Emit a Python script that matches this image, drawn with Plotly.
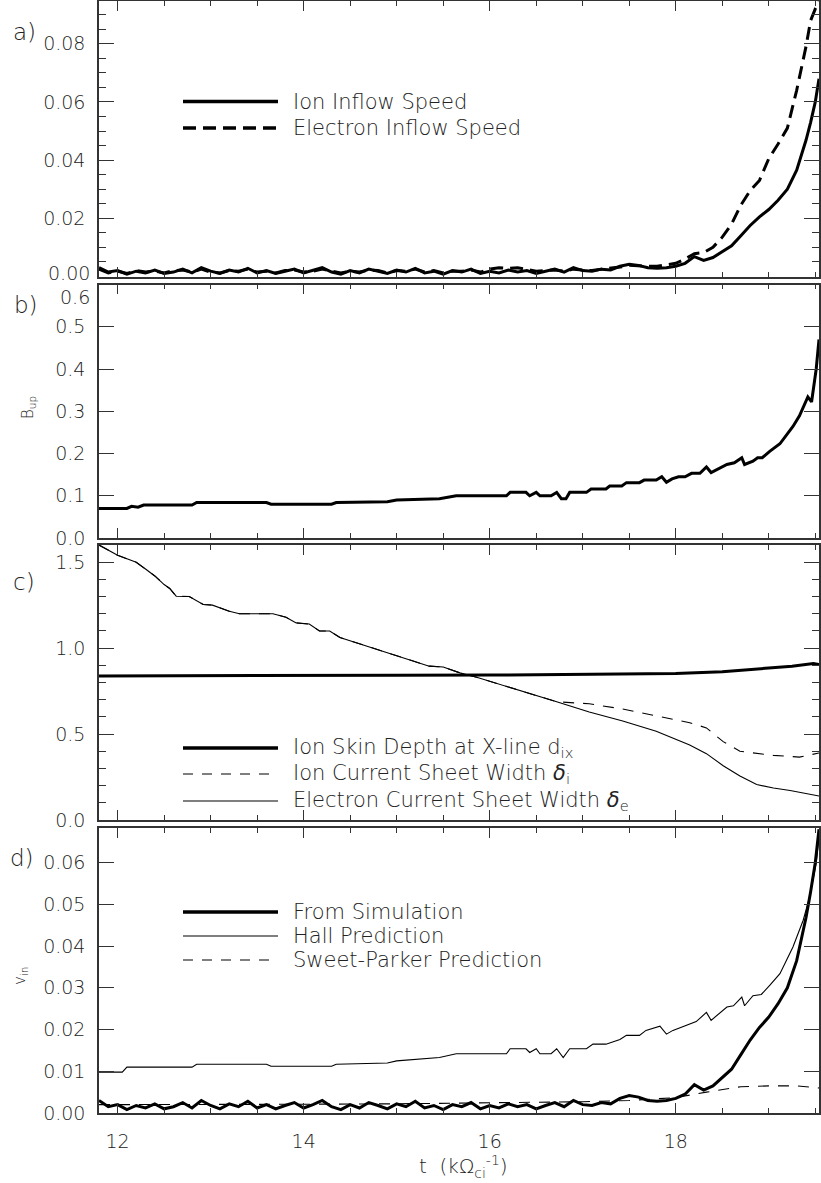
import plotly.graph_objects as go

# ---------------- data ----------------
# panel a / d : ion inflow speed (= v_in from simulation)
t_in = [11.8, 11.9, 12.0, 12.1, 12.2, 12.3, 12.4, 12.5, 12.6, 12.7,
        12.8, 12.9, 13.0, 13.1, 13.2, 13.3, 13.4, 13.5, 13.6, 13.7,
        13.8, 13.9, 14.0, 14.1, 14.2, 14.3, 14.4, 14.5, 14.6, 14.7,
        14.8, 14.9, 15.0, 15.1, 15.2, 15.3, 15.4, 15.5, 15.6, 15.7,
        15.8, 15.9, 16.0, 16.1, 16.2, 16.3, 16.4, 16.5, 16.6, 16.7,
        16.8, 16.9, 17.0, 17.1, 17.2, 17.3, 17.4, 17.5, 17.6, 17.7,
        17.8, 17.9, 18.0, 18.1, 18.2, 18.3, 18.4, 18.5, 18.6, 18.7,
        18.8, 18.9, 19.0, 19.1, 19.2, 19.3, 19.4, 19.45, 19.5, 19.54]
ion_inflow = [0.0030, 0.0015, 0.0020, 0.0008, 0.0018, 0.0012, 0.0022, 0.0010, 0.0015, 0.0025,
              0.0012, 0.0030, 0.0018, 0.0010, 0.0022, 0.0015, 0.0028, 0.0012, 0.0020, 0.0010,
              0.0018, 0.0025, 0.0012, 0.0020, 0.0030, 0.0015, 0.0008, 0.0020, 0.0012, 0.0025,
              0.0018, 0.0010, 0.0022, 0.0015, 0.0028, 0.0012, 0.0018, 0.0008, 0.0020, 0.0015,
              0.0025, 0.0010, 0.0018, 0.0012, 0.0022, 0.0015, 0.0020, 0.0010, 0.0018, 0.0025,
              0.0015, 0.0030, 0.0020, 0.0018, 0.0025, 0.0022, 0.0035, 0.0042, 0.0038, 0.0030,
              0.0028, 0.0030, 0.0035, 0.0045, 0.0068, 0.0055, 0.0065, 0.0085, 0.0105, 0.0140,
              0.0175, 0.0205, 0.0230, 0.0262, 0.0300, 0.0365, 0.0468, 0.0530, 0.0600, 0.0680]
electron_inflow = [0.0025, 0.0012, 0.0018, 0.0010, 0.0020, 0.0015, 0.0018, 0.0012, 0.0020, 0.0022,
                   0.0015, 0.0025, 0.0015, 0.0012, 0.0020, 0.0018, 0.0025, 0.0015, 0.0018, 0.0012,
                   0.0020, 0.0022, 0.0015, 0.0018, 0.0025, 0.0018, 0.0012, 0.0018, 0.0015, 0.0022,
                   0.0020, 0.0012, 0.0020, 0.0018, 0.0025, 0.0015, 0.0020, 0.0012, 0.0018, 0.0018,
                   0.0022, 0.0015, 0.0025, 0.0030, 0.0028, 0.0030, 0.0025, 0.0018, 0.0020, 0.0022,
                   0.0018, 0.0025, 0.0022, 0.0020, 0.0025, 0.0028, 0.0032, 0.0038, 0.0036, 0.0035,
                   0.0035, 0.0040, 0.0045, 0.0060, 0.0078, 0.0082, 0.0100, 0.0135, 0.0180, 0.0245,
                   0.0295, 0.0330, 0.0405, 0.0455, 0.0510, 0.0640, 0.0790, 0.0880, 0.0920, 0.0945]

# panel b : upstream field
t_b = [11.8, 12.1, 12.15, 12.22, 12.28, 12.8, 12.85, 13.6, 13.65, 14.3,
       14.35, 14.9, 15.0, 15.46, 15.64, 16.18, 16.22, 16.39, 16.43, 16.50,
       16.54, 16.66, 16.72, 16.77, 16.82, 16.86, 17.04, 17.09, 17.25, 17.29,
       17.42, 17.47, 17.61, 17.66, 17.79, 17.85, 17.90, 17.96, 18.03, 18.10,
       18.17, 18.26, 18.33, 18.38, 18.55, 18.63, 18.71, 18.74, 18.83, 18.88,
       18.93, 19.01, 19.12, 19.26, 19.33, 19.42, 19.46, 19.51, 19.54]
b_up = [0.070, 0.070, 0.075, 0.073, 0.078, 0.078, 0.084, 0.084, 0.080, 0.080,
        0.084, 0.086, 0.090, 0.093, 0.100, 0.100, 0.108, 0.108, 0.100, 0.108,
        0.100, 0.100, 0.108, 0.093, 0.093, 0.108, 0.108, 0.116, 0.116, 0.123,
        0.123, 0.131, 0.131, 0.137, 0.137, 0.145, 0.132, 0.140, 0.145, 0.145,
        0.153, 0.153, 0.168, 0.155, 0.174, 0.178, 0.190, 0.174, 0.182, 0.190,
        0.190, 0.205, 0.223, 0.264, 0.289, 0.334, 0.322, 0.400, 0.470]

# panel c : length scales
t_dix = [11.8, 13.0, 14.0, 15.0, 16.0, 17.0, 17.5, 18.0, 18.5, 19.0, 19.25, 19.48, 19.54]
d_ix = [0.838, 0.838, 0.840, 0.842, 0.843, 0.846, 0.848, 0.852, 0.862, 0.882, 0.895, 0.910, 0.905]

t_de = [11.8, 11.9, 12.0, 12.1, 12.2, 12.3, 12.4, 12.5, 12.56, 12.63,
        12.77, 12.92, 13.02, 13.20, 13.31, 13.67, 13.81, 13.92, 14.06, 14.17,
        14.28, 14.39, 14.57, 14.85, 15.07, 15.35, 15.50, 15.68, 15.86, 16.14,
        16.50, 16.72, 17.07, 17.43, 17.79, 18.15, 18.33, 18.51, 18.69, 18.87,
        19.05, 19.23, 19.54]
delta_e = [1.60, 1.57, 1.54, 1.52, 1.50, 1.46, 1.42, 1.37, 1.347, 1.302,
           1.30, 1.254, 1.25, 1.215, 1.20, 1.20, 1.18, 1.147, 1.14, 1.10,
           1.10, 1.062, 1.031, 0.984, 0.945, 0.895, 0.89, 0.856, 0.83, 0.785,
           0.727, 0.688, 0.628, 0.576, 0.516, 0.436, 0.386, 0.316, 0.256, 0.206,
           0.186, 0.172, 0.140]
t_di_late = [17.07, 17.43, 17.79, 18.15, 18.33, 18.51, 18.69, 18.87, 19.05, 19.33, 19.48, 19.54]
delta_i_late = [0.676, 0.646, 0.606, 0.566, 0.536, 0.456, 0.400, 0.386, 0.376, 0.366, 0.386, 0.390]
t_di = t_de[:32] + t_di_late
delta_i = delta_e[:32] + delta_i_late

# panel d : predictions
t_hall = [11.8, 12.05, 12.1, 12.8, 12.85, 13.6, 13.65, 14.3, 14.35, 14.9,
          15.0, 15.46, 15.64, 16.18, 16.22, 16.39, 16.43, 16.50, 16.54, 16.66,
          16.72, 16.79, 16.86, 17.04, 17.11, 17.25, 17.40, 17.47, 17.61, 17.68,
          17.83, 17.90, 17.97, 18.11, 18.22, 18.33, 18.38, 18.55, 18.62, 18.71,
          18.74, 18.83, 18.92, 19.01, 19.12, 19.26, 19.37, 19.44, 19.51, 19.54]
hall = [0.0098, 0.0098, 0.0110, 0.0110, 0.0117, 0.0117, 0.0112, 0.0112, 0.0117, 0.0120,
        0.0125, 0.0133, 0.0142, 0.0142, 0.0154, 0.0154, 0.0145, 0.0154, 0.0142, 0.0142,
        0.0154, 0.0133, 0.0154, 0.0154, 0.0165, 0.0165, 0.0176, 0.0186, 0.0186, 0.0198,
        0.0208, 0.0189, 0.0198, 0.0210, 0.0219, 0.0241, 0.0222, 0.0254, 0.0257, 0.0278,
        0.0257, 0.0281, 0.0284, 0.0306, 0.0334, 0.0398, 0.0462, 0.0518, 0.0599, 0.0660]
t_sp = [11.8, 13.0, 14.0, 15.0, 16.0, 17.0, 17.5, 18.0, 18.33, 18.7, 19.0, 19.3, 19.54]
sweet_parker = [0.0020, 0.0020, 0.0021, 0.0022, 0.0024, 0.0027, 0.0030, 0.0037, 0.0050, 0.0063, 0.0065, 0.0065, 0.0060]

x_ticks = [12, 14, 16, 18]
a_ticks = [0.02, 0.04, 0.06, 0.08]
b_ticks = [0.0, 0.1, 0.2, 0.3, 0.4, 0.5]

# ---------------- figure ----------------
FONT = "DejaVu Sans"
INK = "#222222"
AX = "#333333"
W, H = 821, 1183
ML, MR, MT, MB = 99, 2, 1, 70
PW, PH = W - ML - MR, H - MT - MB
bottom_px = MT + PH


def py(y):  # pixel y -> paper fraction
    return (bottom_px - y) / PH


def px(x):
    return (x - ML) / PW


fig = go.Figure()
thick, thin = 3.0, 1.1

fig.add_trace(go.Scatter(x=t_in, y=ion_inflow, mode="lines", line=dict(color="black", width=thick),
                         xaxis="x", yaxis="y", showlegend=False))
fig.add_trace(go.Scatter(x=t_in, y=electron_inflow, mode="lines",
                         line=dict(color="black", width=thick, dash="13px,7px"),
                         xaxis="x", yaxis="y", showlegend=False))
fig.add_trace(go.Scatter(x=t_b, y=b_up, mode="lines", line=dict(color="black", width=thick),
                         xaxis="x2", yaxis="y2", showlegend=False))
fig.add_trace(go.Scatter(x=t_dix, y=d_ix, mode="lines", line=dict(color="black", width=thick),
                         xaxis="x3", yaxis="y3", showlegend=False))
fig.add_trace(go.Scatter(x=t_de, y=delta_e, mode="lines", line=dict(color="black", width=thin),
                         xaxis="x3", yaxis="y3", showlegend=False))
fig.add_trace(go.Scatter(x=t_di, y=delta_i, mode="lines",
                         line=dict(color="black", width=thin, dash="11px,9px"),
                         xaxis="x3", yaxis="y3", showlegend=False))
fig.add_trace(go.Scatter(x=t_hall, y=hall, mode="lines", line=dict(color="black", width=thin),
                         xaxis="x4", yaxis="y4", showlegend=False))
fig.add_trace(go.Scatter(x=t_sp, y=sweet_parker, mode="lines",
                         line=dict(color="black", width=thin, dash="11px,9px"),
                         xaxis="x4", yaxis="y4", showlegend=False))
fig.add_trace(go.Scatter(x=t_in, y=ion_inflow, mode="lines", line=dict(color="black", width=thick),
                         xaxis="x4", yaxis="y4", showlegend=False))

tickfont = dict(family=FONT, size=19, color=INK, weight=200)


def xax(anchor, labels):
    d = dict(domain=[0, 1], anchor=anchor, range=[11.8, 19.54], showline=True, linecolor=AX,
             linewidth=1.5, mirror="allticks", ticks="inside", ticklen=10, tickwidth=1.2,
             tickcolor=AX, tickmode="linear", tick0=12, dtick=2,
             minor=dict(dtick=0.5, tick0=12, ticklen=5, ticks="inside", tickcolor=AX, tickwidth=1.2),
             showticklabels=labels, tickfont=tickfont, showgrid=False, zeroline=False,
             automargin=False, ticklabelstandoff=10)
    if labels:
        d.update(tickmode="array", tickvals=x_ticks, ticktext=[str(v) for v in x_ticks])
    return d


def yax(anchor, dom, rng, dtick, fmt, minor_dtick=None):
    d = dict(domain=dom, anchor=anchor, range=rng, showline=True, linecolor=AX, linewidth=1.5,
             mirror="allticks", ticks="inside", ticklen=15, tickwidth=1.2, tickcolor=AX,
             tick0=0, dtick=dtick, tickformat=fmt, tickfont=tickfont, showgrid=False,
             zeroline=False, ticklabelstandoff=8, automargin=False)
    if minor_dtick:
        d["minor"] = dict(dtick=minor_dtick, tick0=0, ticklen=7, ticks="inside", tickcolor=AX, tickwidth=1.2)
    return d


dom_a = [py(277), 1.0]
dom_b = [py(538), py(284.5)]
dom_c = [py(820), py(545)]
dom_d = [0.0, py(828)]

ya = yax("x", dom_a, [-0.0002, 0.0947], 0.02, ".2f", 0.005)
ya.update(tickmode="array", tickvals=a_ticks)
yb = yax("x2", dom_b, [0, 0.6], 0.1, ".1f")
yb.update(tickmode="array", tickvals=b_ticks)

fig.update_layout(
    width=W, height=H, margin=dict(l=ML, r=MR, t=MT, b=MB, autoexpand=False),
    paper_bgcolor="white", plot_bgcolor="white",
    xaxis=xax("y", False), yaxis=ya,
    xaxis2=xax("y2", False), yaxis2=yb,
    xaxis3=xax("y3", False), yaxis3=yax("x3", dom_c, [0, 1.6], 0.5, ".1f", 0.1),
    xaxis4=xax("y4", True), yaxis4=yax("x4", dom_d, [0, 0.0683], 0.01, ".2f"),
)

# labels at the shared edge of panels a and b, placed as in the original
fig.add_annotation(xref="paper", yref="paper", x=px(91), y=py(273), text="0.00", showarrow=False,
                   xanchor="right", yanchor="middle", font=tickfont, borderpad=0)
fig.add_annotation(xref="paper", yref="paper", x=px(91), y=py(297), text="0.6", showarrow=False,
                   xanchor="right", yanchor="middle", font=tickfont, borderpad=0)

# legends (sample lines + text)
legend_items = [
    (101.5, "Ion Inflow Speed", thick + 0.5, None),
    (128.0, "Electron Inflow Speed", thick + 0.5, "13px,7px"),
    (748.0, "Ion Skin Depth at X-line d<sub>ix</sub>", thick + 0.5, None),
    (774.0, "Ion Current Sheet Width <i>δ</i><sub>i</sub>", thin, "10px,9px"),
    (801.0, "Electron Current Sheet Width <i>δ</i><sub>e</sub>", thin, None),
    (912.0, "From Simulation", thick + 0.5, None),
    (936.0, "Hall Prediction", thin, None),
    (960.0, "Sweet-Parker Prediction", thin, "10px,9px"),
]
for ypix, label, lw, dash in legend_items:
    ln = dict(color="black", width=lw)
    if dash:
        ln["dash"] = dash
    fig.add_shape(type="line", xref="paper", yref="paper", x0=px(183), x1=px(278),
                  y0=py(ypix), y1=py(ypix), line=ln)
    fig.add_annotation(xref="paper", yref="paper", x=px(292), y=py(ypix), text=label,
                       showarrow=False, xanchor="left", yanchor="middle", borderpad=0,
                       font=dict(family=FONT, size=21, color=INK, weight=200))

# panel letters
for lab, xp, yp in [("a)", 24, 32), ("b)", 26, 305), ("c)", 24, 582), ("d)", 22, 858)]:
    fig.add_annotation(xref="paper", yref="paper", x=px(xp), y=py(yp), text=lab, showarrow=False,
                       xanchor="center", yanchor="middle",
                       font=dict(family=FONT, size=23, color=INK, weight=200))

# axis titles
fig.add_annotation(xref="paper", yref="paper", x=px(29), y=py(408), text="B<sub>up</sub>",
                   textangle=-90, showarrow=False, xanchor="center", yanchor="middle",
                   font=dict(family=FONT, size=15, color=INK, weight=200))
fig.add_annotation(xref="paper", yref="paper", x=px(20), y=py(976), text="v<sub>in</sub>",
                   textangle=-90, showarrow=False, xanchor="center", yanchor="middle",
                   font=dict(family=FONT, size=15, color=INK, weight=200))
fig.add_annotation(xref="paper", yref="paper", x=px(463), y=py(1166),
                   text="t  (kΩ<sub>ci</sub><sup>-1</sup>)", showarrow=False,
                   xanchor="center", yanchor="middle",
                   font=dict(family=FONT, size=20, color=INK, weight=200))

fig.write_html(
    "out.html",
    config={"displayModeBar": False},
    post_script="document.body.style.margin='0';document.body.style.padding='0';"
                "document.documentElement.style.overflow='hidden';",
)
